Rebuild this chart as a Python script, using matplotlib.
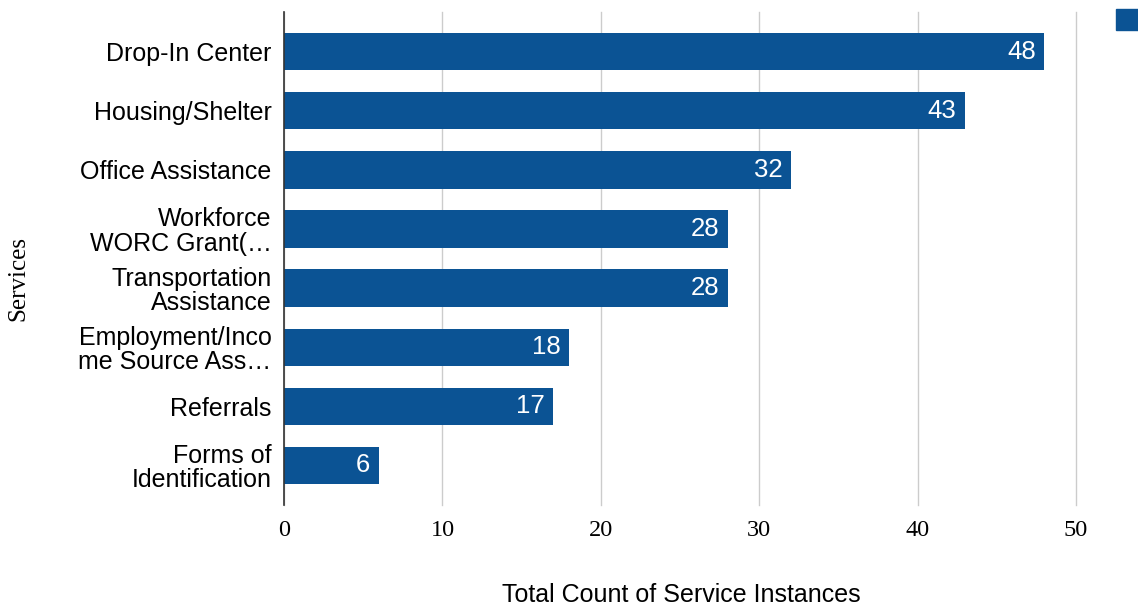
import matplotlib.pyplot as plt
from matplotlib.patches import Patch

services = ["Drop-In Center", "Housing/Shelter", "Office Assistance",
            "Workforce\nWORC Grant(…", "Transportation\nAssistance",
            "Employment/Inco\nme Source Ass…", "Referrals",
            "Forms of\nIdentification"]
counts = [48, 43, 32, 28, 28, 18, 17, 6]
xticks = [0, 10, 20, 30, 40, 50]

blue = "#0b5394"

fig = plt.figure(figsize=(11.38, 6.05), dpi=100)
ax = fig.add_axes([0.2496, 0.1653, 0.6960, 0.8147])

pos = list(range(len(services)))
bars = ax.barh(pos, counts, height=0.63, color=blue, zorder=3)
for b, v in zip(bars, counts):
    ax.text(b.get_width() - 0.55, b.get_y() + b.get_height() / 2, str(v),
            color="white", ha="right", va="center", fontsize=18.5,
            family="Liberation Sans", zorder=4)

ax.set_xlim(0, 50)
ax.set_ylim(7.67, -0.67)
ax.set_yticks(pos)
ax.set_yticklabels(services, family="Liberation Sans", fontsize=18,
                   linespacing=1.03)
ax.set_xticks(xticks)
ax.set_xticklabels([str(t) for t in xticks], family="Liberation Serif",
                   fontsize=17.5)
ax.tick_params(axis="both", length=0)
ax.tick_params(axis="x", pad=11)
ax.tick_params(axis="y", pad=9)

ax.grid(axis="x", color="#cccccc", linewidth=1, zorder=0)
for gl in ax.get_xgridlines():
    gl.set_clip_on(False)
for s in ["top", "right", "bottom"]:
    ax.spines[s].set_visible(False)
ax.spines["left"].set_color("#333333")
ax.spines["left"].set_linewidth(1.2)
ax.spines["left"].set_zorder(5)

ax.set_xlabel("Total Count of Service Instances", family="Liberation Sans",
              fontsize=18)
ax.xaxis.set_label_coords(0.501, -0.158)
ax.set_ylabel("Services", family="Liberation Serif", fontsize=18)
ax.yaxis.set_label_coords(-0.321, 0.46)

# legend key at the top right edge
fig.legend(handles=[Patch(facecolor=blue, edgecolor=blue)], labels=[" "],
           loc="upper left", bbox_to_anchor=(0.981, 0.985),
           frameon=False, borderpad=0, borderaxespad=0,
           handlelength=0.9, handleheight=0.9,
           prop={"family": "Liberation Sans", "size": 18})

fig.savefig("out.png", dpi=100)
